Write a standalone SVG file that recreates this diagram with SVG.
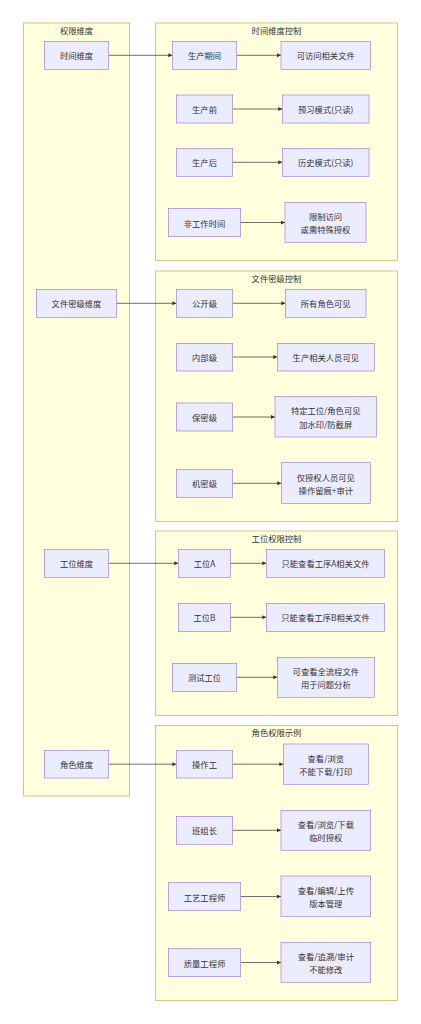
<svg xmlns="http://www.w3.org/2000/svg" width="421" height="1024" viewBox="0 0 421 1024">
<style>
.bg{fill:#ffffff}
.cl{fill:#ffffde;stroke:#aaaa33;stroke-width:0.6}
.nd{fill:#ececff;stroke:#9370db;stroke-width:0.6}
.t{font-family:"Noto Sans CJK SC","Liberation Sans",sans-serif;font-size:8.3px;fill:#333333;text-anchor:middle;dominant-baseline:central}
.e{stroke:#333333;stroke-width:0.7;fill:none}
</style>
<defs>
<marker id="ah" markerUnits="userSpaceOnUse" markerWidth="5" markerHeight="5" refX="4" refY="2" orient="auto">
<path d="M0,0 L4,2 L0,4 z" fill="#333333"/>
</marker>
</defs>
<rect class="bg" x="0" y="0" width="421" height="1024"/>
<g id="clusters">
<g id="c-dim"><rect class="cl" x="23.3" y="23" width="106.4" height="773"/><text class="t" x="76.5" y="29.5">权限维度</text></g>
<g id="c-time"><rect class="cl" x="155.3" y="23" width="242.4" height="237.3"/><text class="t" x="276.5" y="29.5">时间维度控制</text></g>
<g id="c-sec"><rect class="cl" x="155.3" y="271" width="242.4" height="250.3"/><text class="t" x="276.5" y="277.5">文件密级控制</text></g>
<g id="c-ws"><rect class="cl" x="155.3" y="531" width="242.4" height="184.5"/><text class="t" x="276.5" y="537.5">工位权限控制</text></g>
<g id="c-role"><rect class="cl" x="155.3" y="725.3" width="242.4" height="275"/><text class="t" x="276.5" y="731.8">角色权限示例</text></g>
</g>
<g id="edges">
<line class="e" marker-end="url(#ah)" x1="108.7" y1="55.3" x2="172.3" y2="55.3"/>
<line class="e" marker-end="url(#ah)" x1="236.7" y1="55.3" x2="281" y2="55.3"/>
<line class="e" marker-end="url(#ah)" x1="232.7" y1="109" x2="282.3" y2="109"/>
<line class="e" marker-end="url(#ah)" x1="232.7" y1="162.3" x2="282.3" y2="162.3"/>
<line class="e" marker-end="url(#ah)" x1="240.7" y1="222.5" x2="285" y2="222.5"/>
<line class="e" marker-end="url(#ah)" x1="116.7" y1="303.3" x2="176.3" y2="303.3"/>
<line class="e" marker-end="url(#ah)" x1="232.7" y1="303.3" x2="285.3" y2="303.3"/>
<line class="e" marker-end="url(#ah)" x1="232.7" y1="357" x2="277.3" y2="357"/>
<line class="e" marker-end="url(#ah)" x1="232.7" y1="417" x2="275" y2="417"/>
<line class="e" marker-end="url(#ah)" x1="232.7" y1="483.3" x2="281.3" y2="483.3"/>
<line class="e" marker-end="url(#ah)" x1="108.7" y1="563.3" x2="178.3" y2="563.3"/>
<line class="e" marker-end="url(#ah)" x1="230.7" y1="563.3" x2="266.3" y2="563.3"/>
<line class="e" marker-end="url(#ah)" x1="230.7" y1="617.3" x2="266.3" y2="617.3"/>
<line class="e" marker-end="url(#ah)" x1="236.7" y1="677.3" x2="277.3" y2="677.3"/>
<line class="e" marker-end="url(#ah)" x1="108.7" y1="764.2" x2="176.3" y2="764.2"/>
<line class="e" marker-end="url(#ah)" x1="232.7" y1="764.2" x2="283.3" y2="764.2"/>
<line class="e" marker-end="url(#ah)" x1="232.7" y1="830.3" x2="281" y2="830.3"/>
<line class="e" marker-end="url(#ah)" x1="240.7" y1="896.5" x2="281" y2="896.5"/>
<line class="e" marker-end="url(#ah)" x1="240.7" y1="962.5" x2="281" y2="962.5"/>
</g>
<g id="n-time"><rect class="nd" x="44.3" y="41.3" width="64.4" height="28"/><text class="t" x="76.5" y="55.3">时间维度</text></g>
<g id="n-during"><rect class="nd" x="172.3" y="41.3" width="64.4" height="28"/><text class="t" x="204.5" y="55.3">生产期间</text></g>
<g id="n-access"><rect class="nd" x="281" y="41.3" width="89.3" height="28"/><text class="t" x="325.7" y="55.3">可访问相关文件</text></g>
<g id="n-before"><rect class="nd" x="176.3" y="95" width="56.4" height="28"/><text class="t" x="204.5" y="109">生产前</text></g>
<g id="n-preview"><rect class="nd" x="282.3" y="95" width="86.7" height="28"/><text class="t" x="325.7" y="109">预习模式(只读)</text></g>
<g id="n-after"><rect class="nd" x="176.3" y="148.3" width="56.4" height="28"/><text class="t" x="204.5" y="162.3">生产后</text></g>
<g id="n-history"><rect class="nd" x="282.3" y="148.3" width="86.7" height="28"/><text class="t" x="325.7" y="162.3">历史模式(只读)</text></g>
<g id="n-offhours"><rect class="nd" x="168.3" y="208.3" width="72.4" height="28.4"/><text class="t" x="204.5" y="222.5">非工作时间</text></g>
<g id="n-restrict"><rect class="nd" x="285" y="202.3" width="81" height="40"/><text class="t" x="325.5" y="215.8">限制访问</text><text class="t" x="325.5" y="229.2">或需特殊授权</text></g>
<g id="n-sec"><rect class="nd" x="36.3" y="289.3" width="80.4" height="28"/><text class="t" x="76.5" y="303.3">文件密级维度</text></g>
<g id="n-public"><rect class="nd" x="176.3" y="289.3" width="56.4" height="28"/><text class="t" x="204.5" y="303.3">公开级</text></g>
<g id="n-allroles"><rect class="nd" x="285.3" y="289.3" width="80.7" height="28"/><text class="t" x="325.7" y="303.3">所有角色可见</text></g>
<g id="n-internal"><rect class="nd" x="176.3" y="343.3" width="56.4" height="27.7"/><text class="t" x="204.5" y="357">内部级</text></g>
<g id="n-prodstaff"><rect class="nd" x="277.3" y="343.3" width="97" height="27.7"/><text class="t" x="325.8" y="357">生产相关人员可见</text></g>
<g id="n-confidential"><rect class="nd" x="176.3" y="403" width="56.4" height="28"/><text class="t" x="204.5" y="417">保密级</text></g>
<g id="n-specific"><rect class="nd" x="275" y="396.3" width="101.3" height="40.7"/><text class="t" x="325.7" y="410">特定工位/角色可见</text><text class="t" x="325.7" y="423.5">加水印/防截屏</text></g>
<g id="n-secret"><rect class="nd" x="176.3" y="469.3" width="56.4" height="28"/><text class="t" x="204.5" y="483.3">机密级</text></g>
<g id="n-authonly"><rect class="nd" x="281.3" y="462.7" width="89" height="40.6"/><text class="t" x="325.8" y="476.5">仅授权人员可见</text><text class="t" x="325.8" y="490">操作留痕+审计</text></g>
<g id="n-ws"><rect class="nd" x="44.3" y="549.3" width="64.4" height="28"/><text class="t" x="76.5" y="563.3">工位维度</text></g>
<g id="n-wsa"><rect class="nd" x="178.3" y="549.3" width="52.4" height="28"/><text class="t" x="204.5" y="563.3">工位A</text></g>
<g id="n-wsa-doc"><rect class="nd" x="266.3" y="549.3" width="118.4" height="28"/><text class="t" x="325.5" y="563.3">只能查看工序A相关文件</text></g>
<g id="n-wsb"><rect class="nd" x="178.3" y="603.3" width="52.4" height="28"/><text class="t" x="204.5" y="617.3">工位B</text></g>
<g id="n-wsb-doc"><rect class="nd" x="266.3" y="603.3" width="118.4" height="28"/><text class="t" x="325.5" y="617.3">只能查看工序B相关文件</text></g>
<g id="n-test"><rect class="nd" x="172.3" y="663.3" width="64.4" height="28"/><text class="t" x="204.5" y="677.3">测试工位</text></g>
<g id="n-test-doc"><rect class="nd" x="277.3" y="657.3" width="97" height="40"/><text class="t" x="325.8" y="670.8">可查看全流程文件</text><text class="t" x="325.8" y="684.2">用于问题分析</text></g>
<g id="n-role"><rect class="nd" x="44.3" y="750.3" width="64.4" height="27.7"/><text class="t" x="76.5" y="764.2">角色维度</text></g>
<g id="n-operator"><rect class="nd" x="176.3" y="750.3" width="56.4" height="27.7"/><text class="t" x="204.5" y="764.2">操作工</text></g>
<g id="n-operator-p"><rect class="nd" x="283.3" y="744" width="85" height="40.3"/><text class="t" x="325.8" y="757.5">查看/浏览</text><text class="t" x="325.8" y="771">不能下载/打印</text></g>
<g id="n-leader"><rect class="nd" x="176.3" y="816.3" width="56.4" height="28"/><text class="t" x="204.5" y="830.3">班组长</text></g>
<g id="n-leader-p"><rect class="nd" x="281" y="810.3" width="89.7" height="40"/><text class="t" x="325.8" y="823.8">查看/浏览/下载</text><text class="t" x="325.8" y="837.2">临时授权</text></g>
<g id="n-process"><rect class="nd" x="168.3" y="882.3" width="72.4" height="28.4"/><text class="t" x="204.5" y="896.5">工艺工程师</text></g>
<g id="n-process-p"><rect class="nd" x="281" y="876" width="89.7" height="40.3"/><text class="t" x="325.8" y="889.5">查看/编辑/上传</text><text class="t" x="325.8" y="903">版本管理</text></g>
<g id="n-quality"><rect class="nd" x="168.3" y="948.3" width="72.4" height="28.4"/><text class="t" x="204.5" y="962.5">质量工程师</text></g>
<g id="n-quality-p"><rect class="nd" x="281" y="942.3" width="89.7" height="40"/><text class="t" x="325.8" y="955.8">查看/追溯/审计</text><text class="t" x="325.8" y="969.2">不能修改</text></g>
</svg>
